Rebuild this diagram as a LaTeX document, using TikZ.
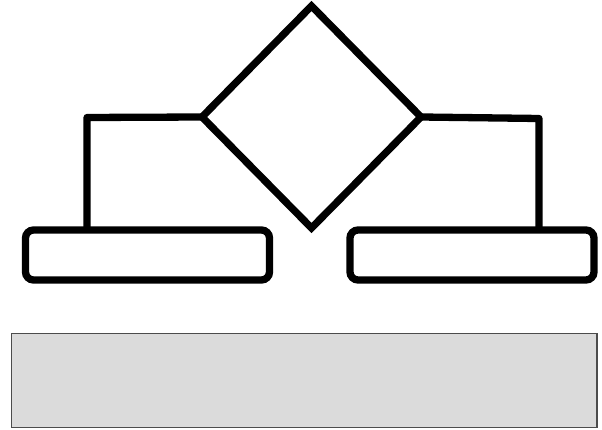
\documentclass[tikz,border=0pt]{standalone}
\usetikzlibrary{shapes.geometric}
\begin{document}
\begin{tikzpicture}[x=1pt,y=-1pt,
  thick line/.style={line width=7.3pt},
  dia/.style={shape=diamond,draw=black,thick line,minimum width=219pt,minimum height=222pt,inner sep=0pt,outer sep=0pt,fill=white},
  leafbox/.style={draw=black,thick line,rounded corners=8pt,minimum width=244pt,minimum height=50pt,inner sep=0pt,outer sep=0pt,fill=white},
  panel/.style={draw=black!70,line width=1.3pt,fill=black!14,minimum width=585.5pt,minimum height=94pt,inner sep=0pt},
  conn/.style={thick line,line join=round}]
\useasboundingbox (0,0) rectangle (602,430);
\node[dia] (d) at (311.5,117) {};
\node[leafbox] (lb) at (147.5,255) {};
\node[leafbox] (rb) at (472,255) {};
\node[panel] (p) at (304.25,380.5) {};
\coordinate (cl) at (87,117.5);
\coordinate (cr) at (539,118.5);
\draw[conn] (d.west) -- (cl) -- (cl |- lb.north);
\draw[conn] (d.east) -- (cr) -- (cr |- rb.north);
\end{tikzpicture}
\end{document}
